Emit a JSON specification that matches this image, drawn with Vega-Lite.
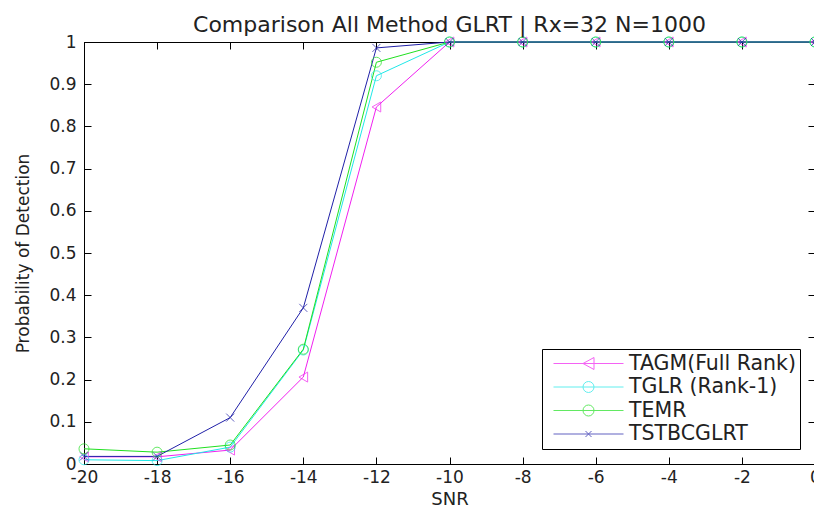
{
  "$schema": "https://vega.github.io/schema/vega-lite/v6.json",
  "width": 731,
  "height": 422,
  "autosize": {"type": "none"},
  "padding": {"left": 84, "top": 42, "right": 0, "bottom": 44},
  "background": "white",
  "title": {
    "text": "Comparison All Method GLRT | Rx=32 N=1000",
    "font": "DejaVu Sans",
    "fontSize": 22,
    "fontWeight": "normal",
    "color": "#222222",
    "anchor": "middle",
    "offset": -4
  },
  "config": {
    "view": {"stroke": "black", "strokeWidth": 1},
    "axis": {
      "labelFont": "DejaVu Sans",
      "labelFontSize": 17,
      "labelColor": "#222222",
      "titleFont": "DejaVu Sans",
      "titleFontWeight": "normal",
      "titleColor": "#222222",
      "domainColor": "black",
      "tickColor": "black",
      "grid": false
    },
    "legend": {
      "labelFont": "DejaVu Sans",
      "labelFontSize": 20.5,
      "labelColor": "#222222",
      "labelLimit": 400
    }
  },
  "data": {
    "values": [
      {"series": "TAGM(Full Rank)", "snr": -20, "pd": 0.017},
      {"series": "TAGM(Full Rank)", "snr": -18, "pd": 0.017},
      {"series": "TAGM(Full Rank)", "snr": -16, "pd": 0.033},
      {"series": "TAGM(Full Rank)", "snr": -14, "pd": 0.206},
      {"series": "TAGM(Full Rank)", "snr": -12, "pd": 0.846},
      {"series": "TAGM(Full Rank)", "snr": -10, "pd": 1},
      {"series": "TAGM(Full Rank)", "snr": -8, "pd": 1},
      {"series": "TAGM(Full Rank)", "snr": -6, "pd": 1},
      {"series": "TAGM(Full Rank)", "snr": -4, "pd": 1},
      {"series": "TAGM(Full Rank)", "snr": -2, "pd": 1},
      {"series": "TAGM(Full Rank)", "snr": 0, "pd": 1},
      {"series": "TGLR (Rank-1)", "snr": -20, "pd": 0.01},
      {"series": "TGLR (Rank-1)", "snr": -18, "pd": 0.008},
      {"series": "TGLR (Rank-1)", "snr": -16, "pd": 0.04},
      {"series": "TGLR (Rank-1)", "snr": -14, "pd": 0.27},
      {"series": "TGLR (Rank-1)", "snr": -12, "pd": 0.92},
      {"series": "TGLR (Rank-1)", "snr": -10, "pd": 1},
      {"series": "TGLR (Rank-1)", "snr": -8, "pd": 1},
      {"series": "TGLR (Rank-1)", "snr": -6, "pd": 1},
      {"series": "TGLR (Rank-1)", "snr": -4, "pd": 1},
      {"series": "TGLR (Rank-1)", "snr": -2, "pd": 1},
      {"series": "TGLR (Rank-1)", "snr": 0, "pd": 1},
      {"series": "TEMR", "snr": -20, "pd": 0.036},
      {"series": "TEMR", "snr": -18, "pd": 0.028},
      {"series": "TEMR", "snr": -16, "pd": 0.045},
      {"series": "TEMR", "snr": -14, "pd": 0.272},
      {"series": "TEMR", "snr": -12, "pd": 0.952},
      {"series": "TEMR", "snr": -10, "pd": 1},
      {"series": "TEMR", "snr": -8, "pd": 1},
      {"series": "TEMR", "snr": -6, "pd": 1},
      {"series": "TEMR", "snr": -4, "pd": 1},
      {"series": "TEMR", "snr": -2, "pd": 1},
      {"series": "TEMR", "snr": 0, "pd": 1},
      {"series": "TSTBCGLRT", "snr": -20, "pd": 0.018},
      {"series": "TSTBCGLRT", "snr": -18, "pd": 0.018},
      {"series": "TSTBCGLRT", "snr": -16, "pd": 0.11},
      {"series": "TSTBCGLRT", "snr": -14, "pd": 0.37},
      {"series": "TSTBCGLRT", "snr": -12, "pd": 0.986},
      {"series": "TSTBCGLRT", "snr": -10, "pd": 1},
      {"series": "TSTBCGLRT", "snr": -8, "pd": 1},
      {"series": "TSTBCGLRT", "snr": -6, "pd": 1},
      {"series": "TSTBCGLRT", "snr": -4, "pd": 1},
      {"series": "TSTBCGLRT", "snr": -2, "pd": 1},
      {"series": "TSTBCGLRT", "snr": 0, "pd": 1}
    ]
  },
  "resolve": {
    "axis": {"x": "independent", "y": "independent"},
    "scale": {"color": "independent", "shape": "independent"}
  },
  "layer": [
    {
      "mark": {"type": "line", "strokeWidth": 1, "clip": false},
      "encoding": {
        "x": {
          "field": "snr", "type": "quantitative",
          "scale": {"domain": [-20, 0], "nice": false, "zero": false},
          "axis": {
            "title": "SNR", "titleFontSize": 18, "titlePadding": 5,
            "values": [-20, -18, -16, -14, -12, -10, -8, -6, -4, -2, 0],
            "labelExpr": "datum.value + ''",
            "tickSize": -7, "labelPadding": 12, "labelFlush": false
          }
        },
        "y": {
          "field": "pd", "type": "quantitative",
          "scale": {"domain": [0, 1], "nice": false},
          "axis": {
            "title": "Probability of Detection", "titleFontSize": 17, "titlePadding": 16,
            "values": [0, 0.1, 0.2, 0.3, 0.4, 0.5, 0.6, 0.7, 0.8, 0.9, 1],
            "labelExpr": "datum.value + ''",
            "tickSize": -7, "labelPadding": 15, "labelFlush": false
          }
        },
        "color": {
          "field": "series", "type": "nominal",
          "scale": {
            "domain": ["TAGM(Full Rank)", "TGLR (Rank-1)", "TEMR", "TSTBCGLRT"],
            "range": ["#f020f0", "#20e8e8", "#20e020", "#2020a8"]
          },
          "legend": null
        },
        "order": {"field": "snr", "type": "quantitative"}
      }
    },
    {
      "mark": {"type": "point", "filled": false, "strokeWidth": 1, "size": 100, "clip": false},
      "encoding": {
        "x": {
          "field": "snr", "type": "quantitative",
          "axis": {
            "orient": "top", "title": null, "labels": false,
            "values": [-20, -18, -16, -14, -12, -10, -8, -6, -4, -2, 0],
            "tickSize": -7
          }
        },
        "y": {
          "field": "pd", "type": "quantitative",
          "axis": {
            "orient": "right", "title": null, "labels": false,
            "values": [0, 0.1, 0.2, 0.3, 0.4, 0.5, 0.6, 0.7, 0.8, 0.9, 1],
            "tickSize": -7
          }
        },
        "color": {
          "field": "series", "type": "nominal",
          "scale": {
            "domain": ["TAGM(Full Rank)", "TGLR (Rank-1)", "TEMR", "TSTBCGLRT"],
            "range": ["#f020f0", "#20e8e8", "#20e020", "#2020a8"]
          },
          "legend": null
        },
        "shape": {
          "field": "series", "type": "nominal",
          "scale": {
            "domain": ["TAGM(Full Rank)", "TGLR (Rank-1)", "TEMR", "TSTBCGLRT"],
            "range": ["triangle-left", "circle", "circle", "M-0.8,-0.8L0.8,0.8M-0.8,0.8L0.8,-0.8"]
          },
          "legend": null
        }
      }
    },
    {
      "transform": [{"filter": "false"}],
      "mark": {"type": "point", "filled": false, "strokeWidth": 1, "size": 400, "clip": false},
      "encoding": {
        "x": {"field": "snr", "type": "quantitative", "axis": null},
        "y": {"field": "pd", "type": "quantitative", "axis": null},
        "color": {
          "field": "series", "type": "nominal",
          "scale": {
            "domain": ["TAGM(Full Rank)", "TGLR (Rank-1)", "TEMR", "TSTBCGLRT"],
            "range": ["#f020f0", "#20e8e8", "#20e020", "#2020a8"]
          },
          "legend": {
            "title": null,
            "orient": "bottom-right",
            "offset": 15,
            "strokeColor": "black",
            "fillColor": "white",
            "padding": 4,
            "symbolSize": 400,
            "symbolStrokeWidth": 1,
            "symbolOffset": 32,
            "labelOffset": 30,
            "rowPadding": 2.5
          }
        },
        "shape": {
          "field": "series", "type": "nominal",
          "scale": {
            "domain": ["TAGM(Full Rank)", "TGLR (Rank-1)", "TEMR", "TSTBCGLRT"],
            "range": [
              "M-3.5,0H3.5M0.55,-0.6L-0.55,0L0.55,0.6Z",
              "M-3.5,0H3.5M-0.55,0A0.55,0.55 0 1,0 0.55,0A0.55,0.55 0 1,0 -0.55,0",
              "M-3.5,0H3.5M-0.55,0A0.55,0.55 0 1,0 0.55,0A0.55,0.55 0 1,0 -0.55,0",
              "M-3.5,0H3.5M-0.3,-0.3L0.3,0.3M-0.3,0.3L0.3,-0.3"
            ]
          },
          "legend": {
            "title": null,
            "orient": "bottom-right",
            "offset": 15,
            "strokeColor": "black",
            "fillColor": "white",
            "padding": 4,
            "symbolSize": 400,
            "symbolStrokeWidth": 1,
            "symbolOffset": 32,
            "labelOffset": 30,
            "rowPadding": 2.5
          }
        }
      }
    }
  ]
}
